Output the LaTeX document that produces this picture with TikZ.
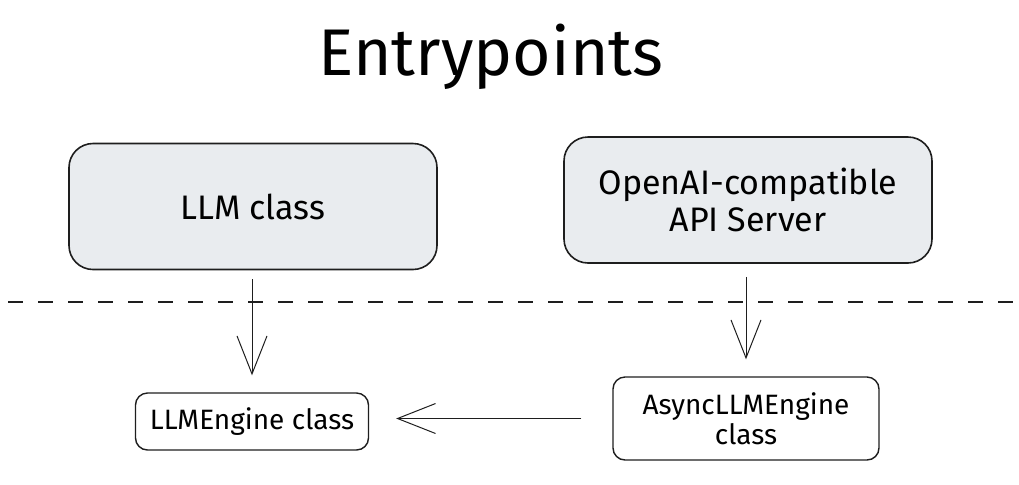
\documentclass[tikz,border=0pt]{standalone}
\usepackage{fontspec}
\setmainfont{Fira Sans}
\usepackage{xcolor}
\usetikzlibrary{arrows.meta}
\definecolor{boxgray}{HTML}{E9ECEF}
\definecolor{ink}{HTML}{1E1E1E}

\begin{document}
\begin{tikzpicture}[x=0.5pt,y=-0.5pt,>={Straight Barb[length=19pt,width=15pt]},
	bigbox/.style={draw=ink,fill=boxgray,line width=0.8pt,rounded corners=12pt,minimum width=184pt,minimum height=63pt,align=center,font=\fontsize{17}{18.5}\selectfont},
	smallbox/.style={draw=ink,line width=0.7pt,rounded corners=6pt,align=center,font=\fontsize{14}{15}\selectfont},
	link/.style={->,draw=ink,line width=0.5pt}]
	\useasboundingbox (0,0) rectangle (1019,484);
	\node [font=\fontsize{33}{36}\selectfont] (title) at (491,57) {Entrypoints};
	\node [bigbox] (llm) at (253,206.5) {LLM class};
	\node [bigbox] (api) at (748,200) {OpenAI-compatible\\API Server};
	\node [smallbox,minimum width=116.5pt,minimum height=28.5pt] (engine) at (252,421.5) {LLMEngine class};
	\node [smallbox,minimum width=133pt,minimum height=41.5pt] (async) at (746,418.5) {AsyncLLMEngine\\class};
	\coordinate (dl) at (8,302);
	\coordinate (dr) at (1019,302);
	\draw [draw=ink,line width=1pt,dash pattern=on 7.5pt off 7.5pt] (dl) -- (dr);
	\draw [link,shorten <=4.5pt,shorten >=8.5pt] (engine.north |- llm.south) -- (engine.north);
	\draw [link,shorten <=6.5pt,shorten >=8.5pt] (async.north |- api.south) -- (async.north);
	\draw [link,shorten <=15.5pt,shorten >=13.5pt] (async.west) -- (async.west -| engine.east);
\end{tikzpicture}
\end{document}
